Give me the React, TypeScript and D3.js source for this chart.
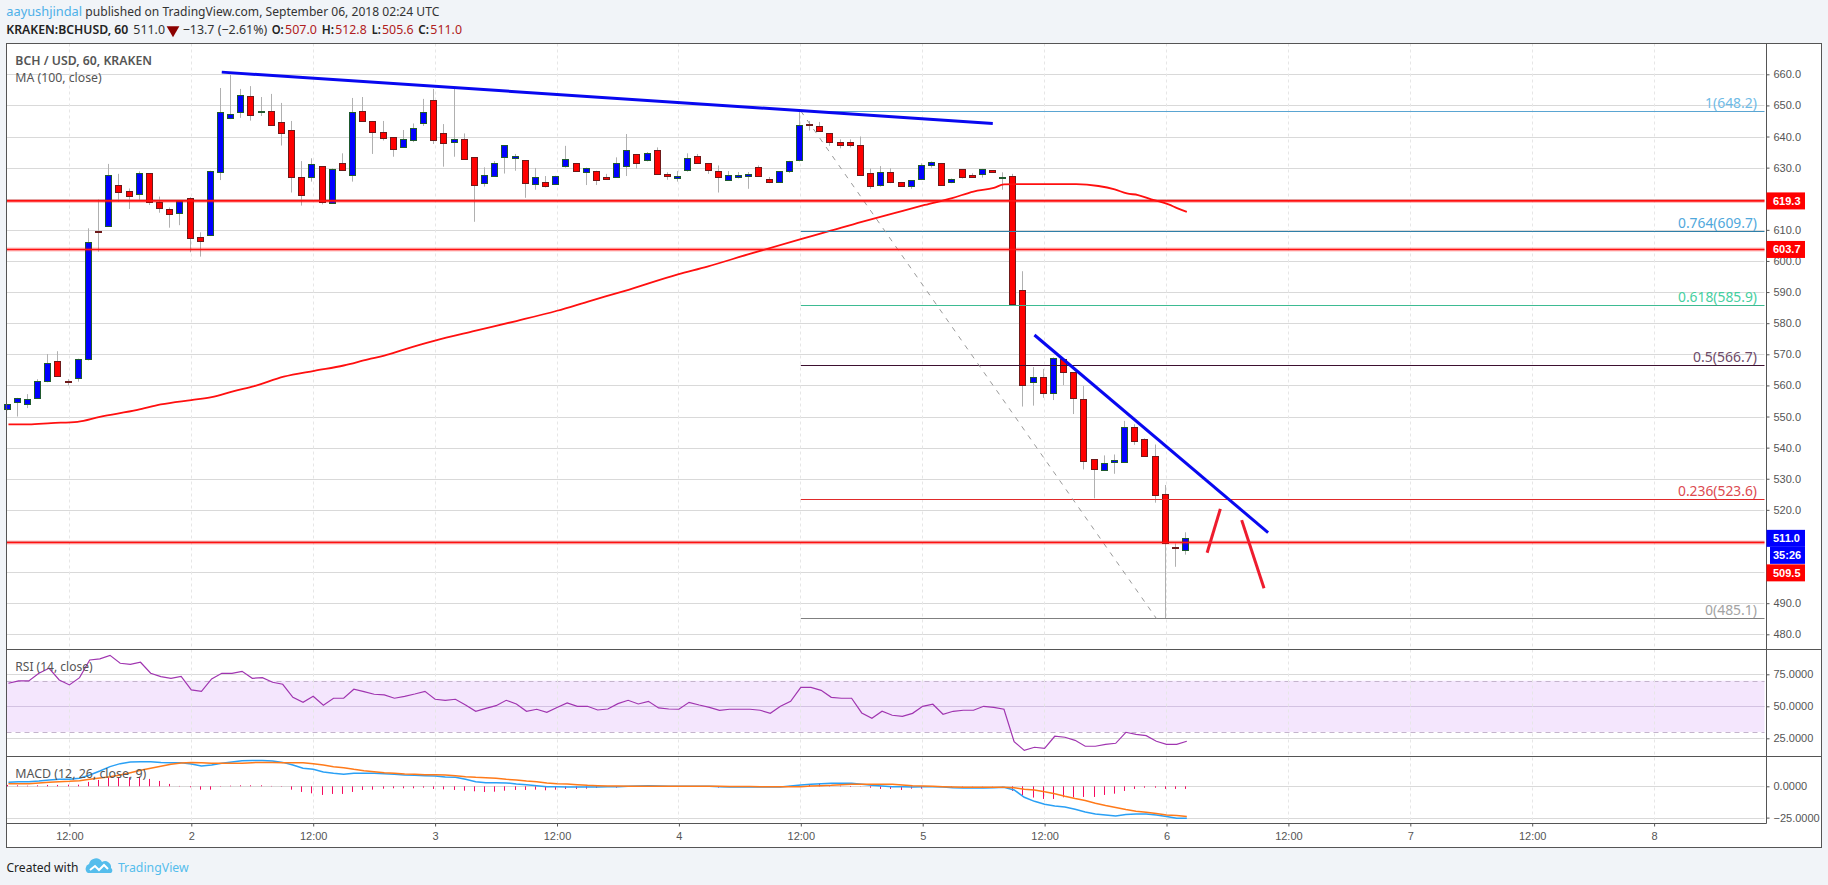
import * as d3 from "d3";
import React, { useEffect, useRef } from "react";

// hours are counted from Sep 1 00:00, one candle per hour
const firstHour = 6;

const opens = [
  552.2, 554.5, 553.8, 555.8, 561.2, 567.7, 561.3, 562.2, 568.4, 609.6,
  611, 624.3, 622.4, 621.6, 628.2, 619, 616.6, 615.5, 620.1, 607.6,
  608.1, 628.5, 646, 647.7, 652.9, 648, 648.1, 644.6, 642, 626.9,
  626.8, 630.4, 618.5, 631.4, 627.5, 648.1, 644.9, 641.6, 639.7, 636.4,
  638.7, 644.2, 651.6, 641, 638, 639.1, 633.3, 625, 627.1, 633.2,
  632.9, 632.3, 624.8, 625.3, 624.6, 630.3, 631.4, 628.4, 628.8, 627,
  626.8, 630.6, 634.3, 632.2, 635.6, 627.9, 626.5, 629.3, 633.6, 631.4,
  628.8, 625.8, 626.8, 627.1, 630.1, 626.2, 625.2, 628.8, 632.2, 643.9,
  643.3, 641, 638.1, 638.1, 637.2, 628.2, 624.2, 628.5, 625.3, 623.9,
  626.2, 630.7, 631.4, 625.2, 629.5, 627.5, 627.8, 629.1, 627, 627.2,
  590.8, 561, 562.6, 557.4, 568.4, 564.2, 555.7, 536.2, 533, 535.2,
  535.3, 546.5, 542.7, 537.2, 525, 508.2, 507,
];
const highs = [
  554, 556, 557.2, 562, 570.1, 571, 562, 568.6, 610.5, 619.8,
  631.2, 628, 623.3, 628.8, 628.2, 620.7, 617.2, 619.6, 620.5, 609.2,
  629, 655.6, 659.8, 655.3, 656.2, 652.7, 653.7, 650.8, 645, 632.1,
  633, 630.5, 629.8, 634.6, 652.4, 652.7, 645, 645, 639.8, 642.1,
  644.2, 652.1, 655.3, 644, 655.3, 641, 633.3, 630.1, 632.1, 637.2,
  634.4, 632.3, 629.9, 627.3, 627.4, 637, 631.5, 630, 629, 628,
  633.3, 640.8, 634.4, 635, 636.5, 628.5, 628.9, 634.6, 634.4, 631.5,
  630.7, 628.9, 628.6, 628.6, 630.7, 627, 628.9, 632.2, 648.2, 645,
  644.7, 641, 639.1, 639.1, 640, 629.7, 630.5, 629.8, 625.4, 626,
  631.4, 632, 631.5, 626.5, 629.5, 628.2, 629.6, 629.2, 628.5, 628,
  596.7, 565.9, 565.3, 569, 568.5, 564.3, 559.8, 536.2, 537.5, 537.8,
  548.6, 547.5, 543, 541, 528, 509.2, 512.8,
];
const lows = [
  552, 550, 552.7, 555.8, 561, 562.8, 560, 561.2, 568, 603,
  611, 619, 616.7, 619.6, 618, 615.5, 610.7, 611.5, 602.8, 601.4,
  608, 626, 645.6, 646, 645.1, 646.6, 643.5, 637.1, 622, 617.8,
  625.5, 618.2, 618.5, 629.3, 625.5, 644.8, 634.4, 638.7, 633.5, 636.4,
  638.2, 643.4, 637.6, 630.3, 633.5, 632.6, 612.6, 623.9, 627, 628.1,
  629, 620.3, 622.9, 623.6, 624.4, 630, 628.7, 624.4, 624.4, 626.4,
  626.8, 627.3, 629.7, 632, 628, 626.1, 625.5, 628.7, 631.3, 628,
  622, 625.8, 626.5, 623.2, 627, 625, 625.2, 628.3, 632, 641.9,
  641.5, 637, 636.2, 636.5, 627.5, 623.2, 623.9, 625, 623.8, 623.2,
  626, 630, 624.3, 625, 626.5, 626.9, 626.8, 628.5, 622.9, 586,
  553.2, 553.5, 556, 555.3, 560.1, 550.8, 533, 523.7, 533, 531.6,
  535.3, 540.9, 537.2, 522.3, 485.1, 501.7, 505.6,
];
const closes = [
  553.9, 555.8, 555.5, 561.3, 567.1, 562.8, 561, 568.4, 606, 609.4,
  627.5, 622, 620.7, 628.2, 619, 617.1, 614.9, 619.4, 607.2, 606.2,
  628.8, 647.8, 647.4, 653.2, 646.7, 648.1, 643.5, 641.2, 626.8, 621,
  631.1, 618.9, 629.5, 629.3, 647.8, 644.8, 641.3, 639.6, 635.8, 639.1,
  642.6, 647.8, 638.7, 637.7, 639.1, 632.6, 624.2, 627.5, 631.4, 637.2,
  633.6, 624.8, 626.9, 623.9, 627.2, 632.7, 628.7, 629.8, 625.9, 626.5,
  631.4, 635.6, 631.3, 634.6, 628, 627.1, 627.2, 633, 631.3, 629.3,
  626.8, 627.5, 627.6, 627.9, 627.1, 625.2, 628.8, 632, 643.6, 643.5,
  641.6, 638.1, 637, 637, 627.7, 623.9, 628.5, 625.2, 623.9, 625.9,
  630.7, 631.7, 624.3, 626.2, 626.9, 626.9, 629.5, 628.5, 627.1, 586,
  560.3, 562.6, 557.4, 568.7, 564.2, 555.7, 535.9, 533, 535.2, 535.9,
  546.7, 541.9, 537.2, 524.7, 509.2, 508, 511,
];

// MA (100) read every few hours
const maHours = [
  6, 8, 10.2, 12.8, 15, 18.7, 21, 24, 26, 28.2, 30.2, 33.1, 36.1, 39, 41.4, 43, 45, 47.9, 51.9,
  56, 60, 63.3, 66.6, 71.9, 74.8, 78.8, 84, 86.7, 90, 93.2, 96.2, 98.9, 101, 103, 104, 105.4,
  111.1, 113.3, 114.9, 116.1, 117.2, 118.5, 120.2, 121.1, 122,
];
const maValues = [
  547.5, 547.5, 547.9, 548.3, 549.9, 552.1, 553.9, 555.3, 556.2, 558.2, 559.8, 562.8, 564.7, 566.4, 568.4, 569.6, 571.6, 574.3, 577.5,
  580.7, 584, 587.2, 590.3, 595.7, 598.2, 602.1, 607, 609.5, 612.6, 615.4, 618, 620.2, 622.3, 623.5, 624.6, 624.7,
  624.7, 624.1, 623, 621.7, 621.2, 619.8, 618.2, 616.9, 615.8,
];

const rsiValues = [
  68, 69.8, 69.8, 75.8, 79.7, 70.6, 66.7, 72.4, 86.2, 87,
  89.8, 83.6, 82.8, 84.4, 75.8, 73.2, 71.9, 73.4, 62.8, 61.7,
  71.4, 75.8, 75.8, 77.3, 71.9, 72.4, 68.8, 67.2, 57, 53.1,
  57.8, 50.8, 56.3, 56.3, 63.3, 61.5, 59.4, 58.9, 56.3, 57.8,
  59.6, 61.7, 55.5, 54.7, 55.5, 51, 46.1, 48.4, 50.5, 54.7,
  51.8, 46.1, 47.7, 45.3, 49, 52.6, 50, 50, 47.1, 47.9,
  52.1, 54.7, 51.8, 53.9, 48.7, 47.9, 47.7, 53.1, 51, 49.2,
  46.9, 47.7, 47.7, 47.7, 46.9, 44.5, 50, 53.9, 64.8, 64.8,
  62.5, 57, 56.3, 56.3, 44.8, 40.6, 46.1, 43, 42.2, 44.5,
  50, 51.6, 43.8, 46.1, 46.9, 46.9, 50, 49.2, 47.7, 22.4,
  15.6, 18, 17.2, 26.6, 25.8, 23.4, 18.8, 18.8, 20.3, 21.1,
  29.7, 28.1, 27.1, 22.7, 20.3, 20.3, 22.7,
];

const macdValues = [
  3.2, 3.7, 3.7, 4.3, 5.1, 5.6, 5.6, 6.4, 9, 12.2,
  15.7, 18.1, 19.4, 19.7, 19.7, 19.1, 18.9, 18.9, 17.8, 16.2,
  17, 18.4, 19.4, 20.5, 20.7, 20.7, 20.2, 19.1, 17, 14.4,
  13.6, 11.4, 10.4, 9.6, 10.4, 10.4, 10.4, 10.1, 9.6, 9,
  8.8, 8.5, 8.2, 7.4, 7.2, 5.6, 3.7, 2.9, 2.9, 2.7,
  1.9, 1.3, 0.5, -0.3, -0.3, -0.5, -0.5, -0.5, -0.5, -0.3,
  -0.3, 0, 0.3, 0.5, 0.3, 0, 0, 0, 0, 0,
  -0.3, -0.5, -0.5, -0.5, -0.5, -0.5, -0.5, 0.3, 1.1, 1.6,
  2.1, 2.4, 2.4, 2.4, 1.6, 0.8, 0.3, -0.3, -0.3, -0.5,
  -0.3, -0.3, -0.5, -1.1, -1.3, -1.3, -1.3, -1.1, -0.8, -2.9,
  -8.8, -12, -14.4, -15.7, -16.5, -18.4, -20.5, -22.1, -22.9, -23.7,
  -22.6, -22.1, -22.1, -22.9, -24.2, -25.5, -25.5,
];
const signalValues = [
  2.1, 2.1, 2.1, 2.7, 3.2, 3.7, 4, 4.5, 5.6, 6.6,
  7.7, 9, 10.9, 12.8, 14.4, 16, 17.6, 18.6, 19.1, 18.9,
  18.4, 18.4, 18.4, 18.4, 18.9, 19.1, 19.1, 18.9, 18.9, 18.9,
  18.1, 17, 15.7, 14.9, 13.6, 12.5, 11.7, 10.9, 10.4, 9.8,
  9.6, 9.3, 9.3, 9, 8.5, 7.7, 7.2, 6.9, 6.4, 5.6,
  5.1, 4.3, 3.7, 2.7, 2.1, 1.9, 1.3, 0.8, 0.5, 0.3,
  0.2, 0.1, 0, 0, 0.1, 0.1, 0, 0, 0, 0,
  0, -0.1, -0.2, -0.2, -0.3, -0.3, -0.3, -0.3, -0.3, 0.3,
  0.5, 0.8, 1.3, 1.6, 1.6, 1.6, 1.6, 1.6, 1.1, 0.5,
  0.3, 0, -0.3, -0.5, -0.8, -0.8, -0.8, -0.8, -0.8, -1.1,
  -2.4, -2.9, -4.3, -5.9, -8, -9.8, -11.4, -13.6, -15.4, -17,
  -18.6, -19.9, -20.7, -21.8, -22.9, -23.4, -24.2,
];
const histValues = [
  1.1, 0.8, 0.5, 0.8, 1.1, 1.1, 1.3, 1.3, 3.5, 5.1,
  7.2, 7.2, 7.2, 7.7, 5.9, 4.3, 1.9, 0.3, -0.8, -2.7,
  -2.7, -0.3, 0.5, 0.8, 0.8, 0.8, 0.3, -0.3, -2.7, -4.5,
  -5.6, -6.9, -6.1, -6.1, -4.5, -2.9, -2.7, -1.9, -1.6, -1.6,
  -1.6, -1.1, -2.1, -2.4, -2.9, -3.5, -4, -4.5, -4.3, -3.5,
  -2.9, -2.9, -2.7, -3.2, -2.7, -2.1, -2.1, -1.9, -1.3, -0.2,
  -1.1, -0.2, 0.1, 0.2, 0.1, -0.1, -0.1, -0.1, -0.1, -0.1,
  -1, -0.3, -0.3, -0.3, -0.3, -0.2, -0.2, 0.3, 0.5, 1.1,
  2.1, 0.8, 0.5, -0.5, -0.2, -1.1, -2.1, -2.1, -2.9, -1.9,
  -1.9, -0.3, -0.3, -0.3, -0.3, -0.2, -0.2, -0.2, -0.2, -3.7,
  -7.2, -9, -10.1, -10.1, -8.8, -8.8, -8.5, -8.5, -6.9, -5.9,
  -3.7, -2.1, -1.1, -1.1, -2.1, -2.1, -2.1,
];

const priceTicks = [660, 650, 640, 630, 620, 610, 600, 590, 580, 570, 560, 550, 540, 530, 520, 510, 500, 490, 480];
const priceAxisLabels = priceTicks.filter((d) => d !== 620 && d !== 510 && d !== 500);
const rsiTicks = [75, 50, 25];
const macdTicks = [0, -25];
const timeTickHours = [12, 24, 36, 48, 60, 72, 84, 96, 108, 120, 132, 144, 156, 168];
const timeTickLabels = ["12:00", "2", "12:00", "3", "12:00", "4", "12:00", "5", "12:00", "6", "12:00", "7", "12:00", "8"];

const fibRatios = ["1", "0.764", "0.618", "0.5", "0.236", "0"];
const fibPrices = [648.2, 609.7, 585.9, 566.7, 523.6, 485.1];
const fibLineColors = ["#5aa5d2", "#2f7fa8", "#3dbb92", "#3d1030", "#e02a2a", "#808080"];
const fibTextColors = ["#6fbbe6", "#4fa8dc", "#45cf9f", "#6d4a68", "#dc4a50", "#a3a3a3"];
const fibLabelWidths = [52, 79, 79, 64, 79, 52];
const fibStartHour = 84;

const levelPrices = [619.3, 603.7, 509.5];
const trendLines = [
  { hours: [27, 102.9], prices: [660.7, 644.2] },
  { hours: [107, 130], prices: [576.2, 512.7] },
];
const arrowLines = [
  { hours: [124, 125.3], prices: [506.2, 520.3] },
  { hours: [127.4, 129.6], prices: [516.7, 494.8] },
];

const W = 1828;
const H = 885;
const frameL = 6.5;
const frameR = 1821.5;
const plotR = 1766.5;
const frameT = 43.5;
const rsiT = 649.5;
const macdT = 756.5;
const timeT = 823.5;
const frameB = 847.5;

const axisFont = "'Liberation Sans', Arial, sans-serif";
const uiFont = "'Noto Sans', 'Open Sans', sans-serif";

const App: React.FC = () => {
  const svgRef = useRef<SVGSVGElement>(null);

  useEffect(() => {
    if (!svgRef.current) return;
    const svg = d3.select(svgRef.current);
    svg.selectAll("*").remove();

    const x = d3.scaleLinear().domain([12, 24]).range([69.4, 191.3]);
    const y = d3.scaleLinear().domain([660, 480]).range([74.3, 634.3]);
    const yRsi = d3.scaleLinear().domain([75, 25]).range([674.3, 738.3]);
    const yMacd = d3.scaleLinear().domain([0, -25]).range([786.3, 817.6]);
    const hours = opens.map((_, i) => firstHour + i);
    const px = (v: number) => Math.round(v) + 0.5;
    const candleX = (h: number) => Math.floor(x(h) - 1.3) + 0.5;

    svg.append("rect").attr("width", W).attr("height", H).attr("fill", "#f1f4f8");
    svg
      .append("rect")
      .attr("x", frameL)
      .attr("y", frameT)
      .attr("width", frameR - frameL)
      .attr("height", frameB - frameT)
      .attr("fill", "#fff");

    // Horizontal grid
    const hGrid = (vals: number[], scale: (v: number) => number) =>
      svg
        .append("g")
        .selectAll("line")
        .data(vals)
        .enter()
        .append("line")
        .attr("x1", frameL)
        .attr("x2", plotR - 2)
        .attr("y1", (d) => px(scale(d)))
        .attr("y2", (d) => px(scale(d)))
        .attr("stroke", "#d9d9d9");
    hGrid(priceTicks, y);

    // RSI band
    svg
      .append("rect")
      .attr("x", frameL)
      .attr("width", plotR - 2 - frameL)
      .attr("y", yRsi(70))
      .attr("height", yRsi(30) - yRsi(70))
      .attr("fill", "#f4e6fd");
    hGrid(rsiTicks, yRsi);
    svg
      .append("line")
      .attr("x1", frameL)
      .attr("x2", plotR - 2)
      .attr("y1", px(yRsi(50)))
      .attr("y2", px(yRsi(50)))
      .attr("stroke", "#d3c2e2");
    [70, 30].forEach((d) => {
      svg
        .append("line")
        .attr("x1", frameL)
        .attr("x2", plotR - 2)
        .attr("y1", px(yRsi(d)))
        .attr("y2", px(yRsi(d)))
        .attr("stroke", "#c4b4cc")
        .attr("stroke-dasharray", "5,4");
    });
    hGrid(macdTicks, yMacd);

    // Vertical grid
    svg
      .append("g")
      .selectAll("line")
      .data(timeTickHours)
      .enter()
      .append("line")
      .attr("x1", (d) => Math.floor(x(d)) + 0.5)
      .attr("x2", (d) => Math.floor(x(d)) + 0.5)
      .attr("y1", frameT)
      .attr("y2", timeT)
      .attr("stroke", "#e6e6e6")
      .attr("stroke-dasharray", "3,3");

    // Candles
    const candles = svg.append("g");
    candles
      .selectAll("line")
      .data(hours)
      .enter()
      .append("line")
      .attr("x1", (h) => candleX(h))
      .attr("x2", (h) => candleX(h))
      .attr("y1", (_, i) => y(highs[i]))
      .attr("y2", (_, i) => y(lows[i]))
      .attr("stroke", "#b0b0b0");
    candles
      .selectAll("rect")
      .data(hours)
      .enter()
      .append("rect")
      .attr("x", (h) => candleX(h) - 3)
      .attr("width", 6)
      .attr("y", (_, i) => px(y(Math.max(opens[i], closes[i]))))
      .attr("height", (_, i) => Math.max(1, Math.round(Math.abs(y(opens[i]) - y(closes[i])))))
      .attr("fill", (_, i) => (closes[i] >= opens[i] ? "#0000ff" : "#ff0000"))
      .attr("stroke", (_, i) => (closes[i] >= opens[i] ? "#1f5a2e" : "#6e1a1a"));

    // Moving average
    const maLine = d3
      .line<number>()
      .x((_, i) => x(maHours[i]))
      .y((d) => y(d))
      .curve(d3.curveMonotoneX);
    svg
      .append("path")
      .attr("d", maLine(maValues))
      .attr("fill", "none")
      .attr("stroke", "#ff0f0f")
      .attr("stroke-width", 1.8);

    const label = (tx: number, ty: number, text: string, weight = 400, size = 13, fill = "#555", width?: number) => {
      const t = svg
        .append("text")
        .attr("x", tx)
        .attr("y", ty)
        .attr("font-family", uiFont)
        .attr("font-size", size)
        .attr("font-weight", weight)
        .attr("fill", fill)
        .text(text);
      if (width) t.attr("textLength", width).attr("lengthAdjust", "spacingAndGlyphs");
      return t;
    };

    // Fibonacci retracement
    fibPrices.forEach((p, i) => {
      svg
        .append("line")
        .attr("x1", x(fibStartHour))
        .attr("x2", plotR - 2)
        .attr("y1", px(y(p)))
        .attr("y2", px(y(p)))
        .attr("stroke", fibLineColors[i]);
      label(1757 - fibLabelWidths[i], px(y(p)) - 4, `${fibRatios[i]}(${p.toFixed(1)})`, 400, 14, fibTextColors[i], fibLabelWidths[i]);
    });
    svg
      .append("line")
      .attr("x1", x(fibStartHour))
      .attr("y1", y(fibPrices[0]))
      .attr("x2", x(119))
      .attr("y2", y(fibPrices[5]))
      .attr("stroke", "#9a9a9a")
      .attr("stroke-dasharray", "5,6");

    // Horizontal levels
    levelPrices.forEach((p) => {
      svg
        .append("line")
        .attr("x1", frameL)
        .attr("x2", plotR - 2)
        .attr("y1", y(p))
        .attr("y2", y(p))
        .attr("stroke", "#ff0000")
        .attr("stroke-opacity", 0.25)
        .attr("stroke-width", 4);
      svg
        .append("line")
        .attr("x1", frameL)
        .attr("x2", plotR - 2)
        .attr("y1", y(p))
        .attr("y2", y(p))
        .attr("stroke", "#ff1010")
        .attr("stroke-width", 1.6);
    });

    // Hand drawn lines
    const segment = (seg: { hours: number[]; prices: number[] }, color: string, width: number) =>
      svg
        .append("line")
        .attr("x1", x(seg.hours[0]))
        .attr("y1", y(seg.prices[0]))
        .attr("x2", x(seg.hours[1]))
        .attr("y2", y(seg.prices[1]))
        .attr("stroke", color)
        .attr("stroke-width", width);
    trendLines.forEach((t) => segment(t, "#0808f0", 3));
    arrowLines.forEach((t) => segment(t, "#ee1c2e", 3));

    // RSI
    const rsiLine = d3
      .line<number>()
      .x((_, i) => x(hours[i]))
      .y((d) => yRsi(d));
    svg
      .append("path")
      .attr("d", rsiLine(rsiValues))
      .attr("fill", "none")
      .attr("stroke", "#a035b0")
      .attr("stroke-width", 1.2);

    // MACD
    svg
      .append("g")
      .selectAll("line")
      .data(histValues)
      .enter()
      .append("line")
      .attr("x1", (_, i) => candleX(hours[i]))
      .attr("x2", (_, i) => candleX(hours[i]))
      .attr("y1", yMacd(0))
      .attr("y2", (d) => yMacd(d))
      .attr("stroke", "#f50a5f");
    const macdLine = d3
      .line<number>()
      .x((_, i) => x(hours[i]))
      .y((d) => yMacd(d));
    svg
      .append("path")
      .attr("d", macdLine(macdValues))
      .attr("fill", "none")
      .attr("stroke", "#2aa0f5")
      .attr("stroke-width", 1.5);
    svg
      .append("path")
      .attr("d", macdLine(signalValues))
      .attr("fill", "none")
      .attr("stroke", "#ff7a1a")
      .attr("stroke-width", 1.5);

    // Frame and pane dividers
    const frame = svg.append("g").attr("stroke", "#555").attr("fill", "none");
    frame
      .append("rect")
      .attr("x", frameL)
      .attr("y", frameT)
      .attr("width", frameR - frameL)
      .attr("height", frameB - frameT);
    frame.append("line").attr("x1", plotR).attr("x2", plotR).attr("y1", frameT).attr("y2", timeT);
    frame.append("line").attr("x1", frameL).attr("x2", frameR).attr("y1", rsiT).attr("y2", rsiT);
    frame.append("line").attr("x1", frameL).attr("x2", frameR).attr("y1", macdT).attr("y2", macdT);
    frame.append("line").attr("x1", frameL).attr("x2", plotR).attr("y1", timeT).attr("y2", timeT);

    // Axes
    const styleAxis = (g: d3.Selection<SVGGElement, unknown, null, undefined>) => {
      g.select(".domain").remove();
      g.selectAll("line").attr("stroke", "#555");
      g.selectAll("text").attr("fill", "#555").attr("font-family", axisFont).attr("font-size", 11);
    };
    svg
      .append("g")
      .attr("transform", `translate(${plotR},0)`)
      .call(d3.axisRight(y).tickValues(priceAxisLabels).tickSize(3).tickPadding(4).tickFormat(d3.format(".1f") as any))
      .call(styleAxis);
    svg
      .append("g")
      .attr("transform", `translate(${plotR},0)`)
      .call(d3.axisRight(yRsi).tickValues(rsiTicks).tickSize(3).tickPadding(4).tickFormat(d3.format(".4f") as any))
      .call(styleAxis);
    svg
      .append("g")
      .attr("transform", `translate(${plotR},0)`)
      .call(d3.axisRight(yMacd).tickValues(macdTicks).tickSize(3).tickPadding(4).tickFormat(d3.format(".4f") as any))
      .call(styleAxis);
    svg
      .append("g")
      .attr("transform", `translate(0,${timeT})`)
      .call(
        d3
          .axisBottom(x)
          .tickValues(timeTickHours)
          .tickSize(3)
          .tickPadding(6)
          .tickFormat((_, i) => timeTickLabels[i])
      )
      .call(styleAxis);

    // Price tags
    const tags = [
      { label: "619.3", at: y(619.3), fill: "#ff0000", left: plotR },
      { label: "603.7", at: y(603.7), fill: "#ff0000", left: plotR },
      { label: "511.0", at: y(511) + 0.5, fill: "#0000ff", left: plotR },
      { label: "35:26", at: y(511) + 17.5, fill: "#0000ff", left: 1770 },
      { label: "509.5", at: y(511) + 35, fill: "#ff0000", left: plotR },
    ];
    tags.forEach((t) => {
      svg
        .append("rect")
        .attr("x", t.left)
        .attr("y", t.at - 8.5)
        .attr("width", 1805 - t.left)
        .attr("height", 17)
        .attr("fill", t.fill);
      svg
        .append("text")
        .attr("x", 1773)
        .attr("y", t.at + 4)
        .attr("font-family", axisFont)
        .attr("font-size", 11)
        .attr("font-weight", 700)
        .attr("fill", "#fff")
        .text(t.label);
    });

    // Pane titles
    label(15.3, 65, "BCH / USD, 60, KRAKEN", 600, 13, "#555", 136.7);
    label(15.3, 82, "MA (100, close)", 400, 13, "#555", 86.4);
    label(15.3, 671, "RSI (14, close)", 400, 13, "#555", 77.3);
    label(15.3, 778, "MACD (12, 26, close, 9)", 400, 13, "#555", 131);

    // Header
    label(6.3, 16, "aayushjindal", 400, 13, "#4eb0e8", 75.7);
    label(85.3, 16, "published on TradingView.com, September 06, 2018 02:24 UTC", 400, 13, "#333", 354);
    label(6.3, 34, "KRAKEN:BCHUSD, 60", 600, 13, "#222", 122);
    label(133.3, 34, "511.0", 400, 13, "#333", 31.7);
    svg
      .append("path")
      .attr("d", d3.symbol(d3.symbolTriangle, 70)())
      .attr("transform", "translate(173,30) rotate(180)")
      .attr("fill", "#8b0000");
    label(182.7, 34, "−13.7 (−2.61%)", 400, 13, "#333", 84.6);
    label(271.7, 34, "O:", 600, 13, "#222", 12);
    label(285, 34, "507.0", 400, 13, "#b02020", 32);
    label(321.7, 34, "H:", 600, 13, "#222", 12.3);
    label(335.3, 34, "512.8", 400, 13, "#b02020", 31.4);
    label(371.7, 34, "L:", 600, 13, "#222", 9);
    label(382, 34, "505.6", 400, 13, "#b02020", 31.7);
    label(418.3, 34, "C:", 600, 13, "#222", 10.7);
    label(430.3, 34, "511.0", 400, 13, "#b02020", 31.7);

    // Footer
    label(6.5, 872, "Created with", 400, 13, "#222", 72);
    svg
      .append("path")
      .attr("d", "M88,873 a5,5 0 0 1 1,-9 a7,7 0 0 1 13,-2 a6,6 0 0 1 9,6 a3,3 0 0 1 0,5 Z")
      .attr("fill", "#55bdec");
    svg
      .append("path")
      .attr("d", "M90,870 l5,-4 l4,4 l5,-5 l4,4")
      .attr("fill", "none")
      .attr("stroke", "#fff")
      .attr("stroke-width", 2);
    label(117.9, 872, "TradingView", 400, 13, "#55bdec", 70.8);
  }, []);

  return (
    <svg
      ref={svgRef}
      width={W}
      height={H}
      style={{ position: "absolute", left: 0, top: 0, display: "block" }}
    />
  );
};

export default App;
